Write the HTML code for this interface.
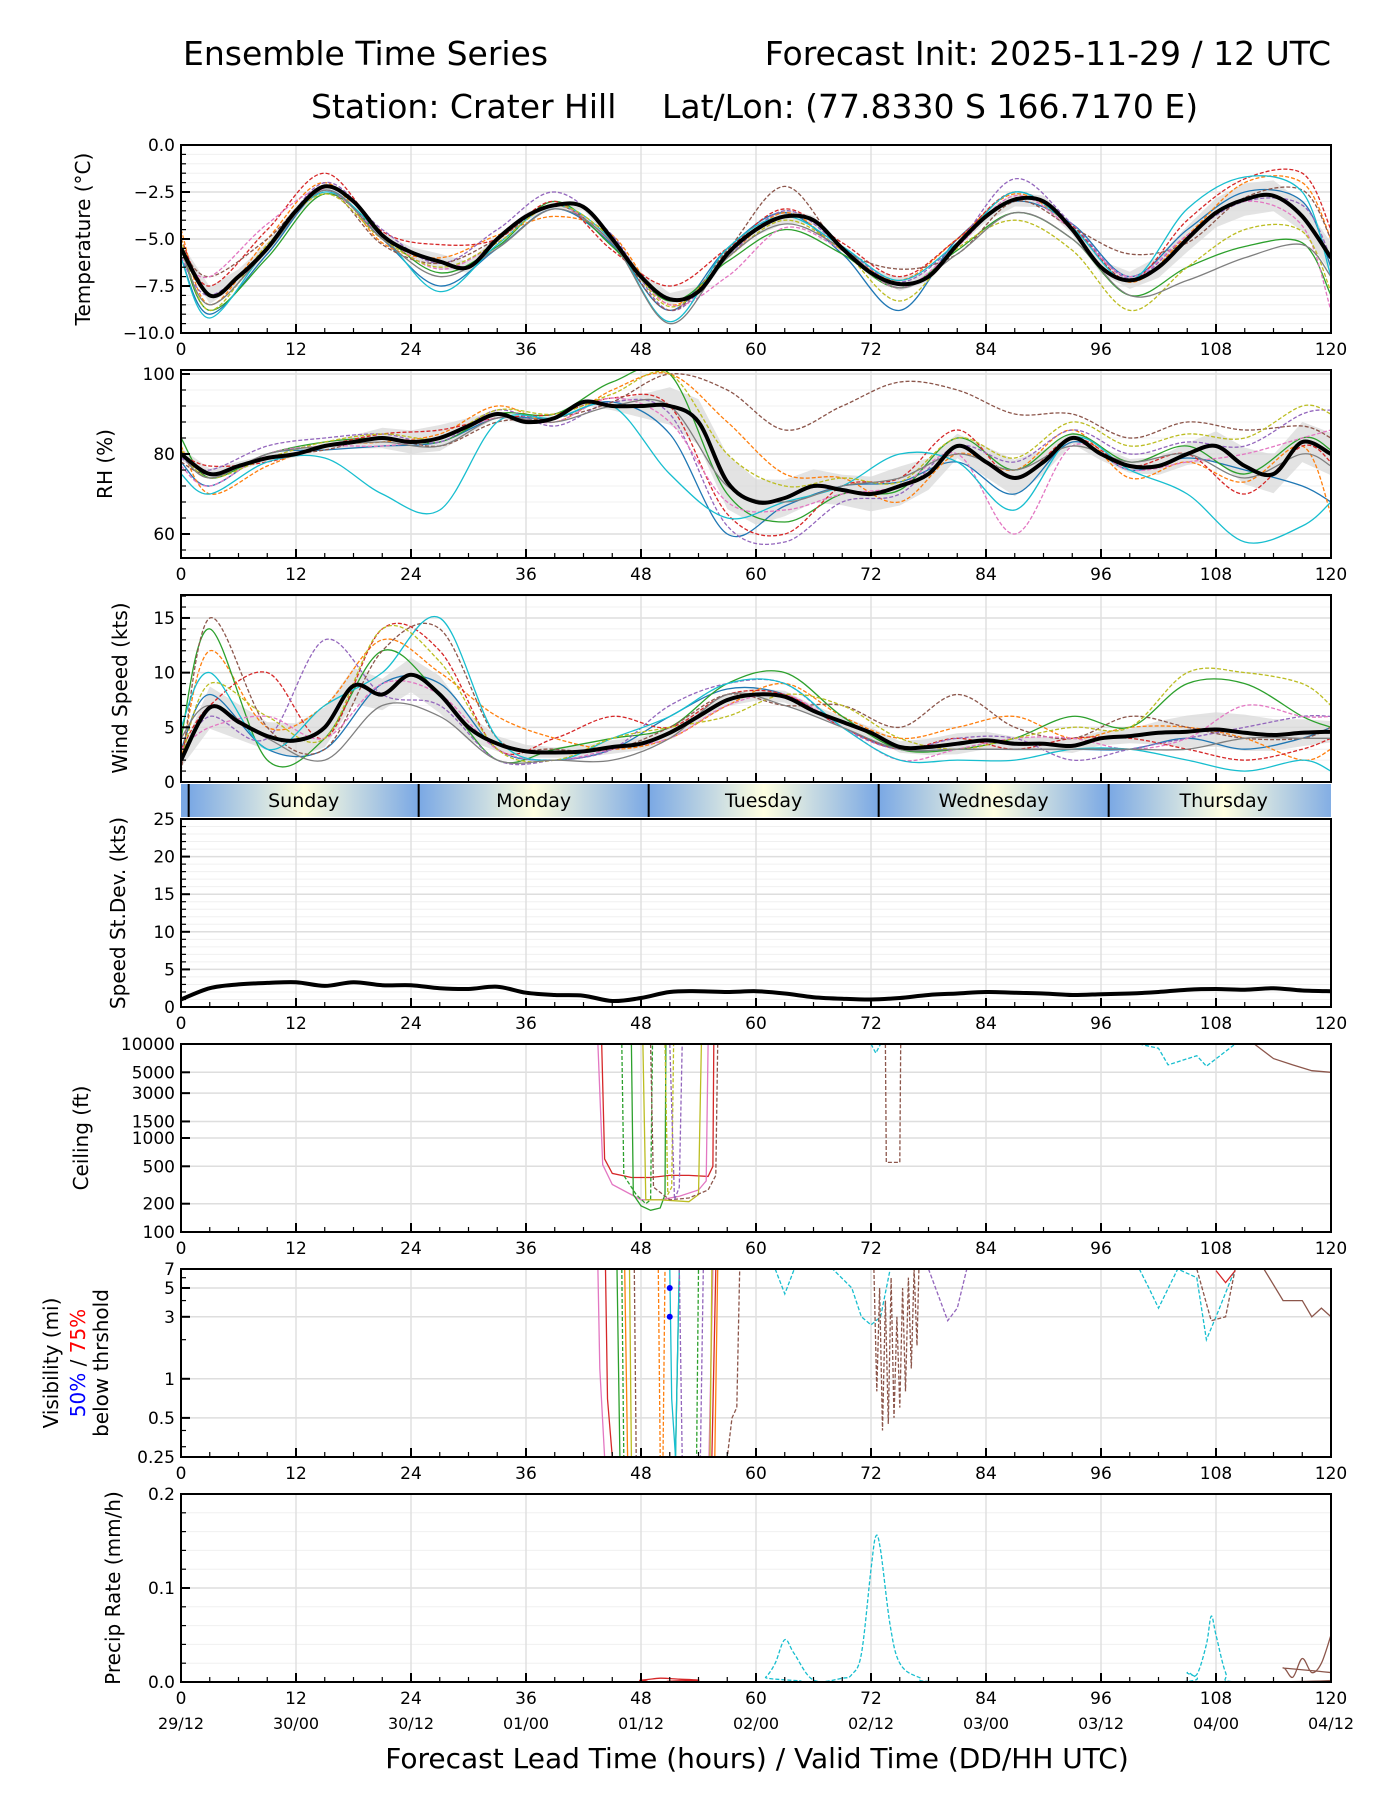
<!DOCTYPE html>
<html><head><meta charset="utf-8"><style>
body{margin:0;background:#fff;}
svg{display:block;font-family:"DejaVu Sans","Liberation Sans",sans-serif;}
</style></head><body>
<svg id="chart" width="1400" height="1800" viewBox="0 0 1400 1800">
<defs>
<linearGradient id="dayg" x1="0" x2="1" y1="0" y2="0">
<stop offset="0" stop-color="#7aa8e4"/><stop offset="0.5" stop-color="#ffffe0"/><stop offset="1" stop-color="#7aa8e4"/>
</linearGradient>
</defs>
<text x="183" y="65" font-size="33">Ensemble Time Series</text>
<text x="1331" y="65" font-size="33" text-anchor="end">Forecast Init: 2025-11-29 / 12 UTC</text>
<text x="311" y="118" font-size="33">Station: Crater Hill</text>
<text x="662" y="118" font-size="33">Lat/Lon: (77.8330 S 166.7170 E)</text>
<text x="757" y="1768" font-size="28" text-anchor="middle">Forecast Lead Time (hours) / Valid Time (DD/HH UTC)</text>
</svg>
<script>
const COLORS=['#1f77b4','#ff7f0e','#2ca02c','#d62728','#9467bd','#8c564b','#e377c2','#17becf','#bcbd22','#7f7f7f'];
const DASH=[false,true,false,true,true,true,true,false,true,false];
const memberHours=[0,3,9,15,21,27,33,39,45,51,57,63,69,75,81,87,93,99,105,111,117,120];
const meanHours=[0,3,6,9,12,15,18,21,24,27,30,33,36,39,42,45,48,51,54,57,60,63,66,69,72,75,78,81,84,87,90,93,96,99,102,105,108,111,114,117,120];
const tempMean=[-5.5,-8.0,-7.0,-5.5,-3.5,-2.2,-3.0,-4.8,-5.7,-6.2,-6.5,-5.0,-3.8,-3.2,-3.3,-5.0,-7.0,-8.2,-7.8,-5.8,-4.5,-3.8,-4.0,-5.5,-6.8,-7.4,-7.0,-5.3,-3.8,-2.9,-3.0,-4.5,-6.5,-7.2,-6.5,-5.0,-3.6,-2.9,-2.7,-3.8,-6.0];
const tempMembers=[
[-6,-9,-5.8,-2.4,-5,-7.5,-5.5,-3.4,-5.3,-8.8,-5.5,-3.6,-5.8,-8.8,-5,-3,-4.2,-7,-4.5,-2.5,-3,-6.5],
[-4.5,-8.5,-5,-2,-5.2,-6,-4.8,-3.8,-4.8,-8.5,-6,-3.6,-5.6,-7.2,-5,-2.6,-4.4,-7.3,-4.8,-2,-2,-5],
[-5.5,-8.8,-6,-2.6,-4.8,-6.8,-5.4,-3,-5.4,-8.3,-6.2,-4.5,-5.8,-7.6,-5.6,-3.6,-5,-8,-6.5,-5.4,-5.2,-8],
[-5,-7.5,-4.5,-1.5,-4.6,-5.3,-5,-3,-5.6,-7.5,-5.5,-3.4,-5.2,-7,-5,-2.5,-4.3,-7.2,-4,-1.8,-1.5,-4.5],
[-6,-8,-5.5,-2,-4.5,-6.3,-4.5,-2.5,-4.8,-8.8,-6,-3.5,-5.4,-7.3,-5.2,-1.8,-4.2,-7.1,-4.8,-3,-3.2,-6],
[-5.5,-7,-5,-2.4,-5.3,-6.3,-5,-3.2,-5.2,-8.8,-5.6,-2.2,-5.5,-6.6,-5.8,-3,-4.4,-5.8,-5.2,-2.8,-2.4,-5],
[-6,-7,-4.2,-2.4,-4.8,-6.6,-5.2,-3.2,-5.2,-8.5,-7,-4.4,-5.6,-7.6,-5.4,-2.7,-4.5,-7,-4.8,-3,-4.3,-8.8],
[-6,-9.2,-5.5,-2.5,-4.8,-7.8,-5.3,-3.2,-5.1,-9.4,-5.5,-3.8,-5.4,-7.2,-5.2,-2.5,-4.4,-7.2,-3.4,-1.7,-2.5,-7],
[-5,-8.8,-5.3,-2.6,-5,-6.5,-5.2,-3.2,-5,-8.6,-6,-4,-5.6,-8.3,-5.5,-4,-5.6,-8.8,-6.5,-4.5,-4.6,-7.8],
[-5.5,-8.5,-5.6,-2.4,-5,-7,-5.5,-3.4,-5.2,-9.5,-6,-4.2,-5.5,-7.6,-5.8,-3.6,-5,-8,-7.2,-6,-5.3,-7]];
const rhMean=[80,75,77,79,80,82,83,84,83,84,87,90,88,89,93,92,92,92,88,73,68,69,72,71,70,72,75,82,78,74,78,84,80,77,77,80,82,77,75,83,80];
const rhMembers=[
[78,72,80,81,82,83,89,89,93,85,60,67,72,73,78,70,83,76,79,76,72,68],
[82,70,77,82,83,85,92,88,96,100,88,75,74,68,80,76,86,74,78,73,82,65],
[84,74,80,83,84,83,90,90,98,100,70,63,70,71,84,76,85,78,82,75,84,81],
[80,77,78,82,85,86,89,90,94,92,65,60,72,74,86,74,84,77,80,70,82,78],
[79,76,82,84,85,83,91,87,93,90,62,58,68,70,82,78,86,80,83,82,90,91],
[78,75,79,81,84,82,88,89,93,100,96,86,92,98,96,90,90,84,88,86,87,84],
[77,72,80,82,82,84,89,88,94,88,68,66,70,72,80,60,82,76,78,80,84,86],
[75,70,78,79,70,66,88,89,92,75,64,68,72,80,78,66,84,76,70,58,62,68],
[81,74,79,83,85,84,91,90,95,100,80,72,74,73,84,79,88,82,85,84,92,90],
[80,74,80,82,83,82,89,88,92,92,72,68,72,74,80,76,82,78,80,74,80,77]];
const windMean=[2,6.8,5.5,4.2,3.8,5,8.8,8,9.8,8,5,3.5,2.8,2.7,2.8,3.2,3.5,4.5,6,7.5,8,7.8,6.5,5.5,4.5,3.2,3.2,3.5,3.8,3.5,3.5,3.3,4,4.2,4.5,4.6,4.8,4.5,4.3,4.5,4.6];
const windMembers=[
[3,8,3,3,9,9,3,2,3,6,8.5,8,5,3,3,3,3,3,4,3,4,5],
[2,12,5,7,13,10,6,4,3,4,7,9,6,4,5,6,4,5,5,4,2,3],
[4,14,2,4,12,8,2,3,4,5,9,10,6,3,3,4,6,5,9,9,6,5],
[3,7,10,4,14,12,3,4,6,5,8,8,5,3,4,3,4,4,3,2,3,4],
[2,6,4,13,8,7,2,2,3,7,9,9,5,3,4,4,2,3,4,5,6,6],
[1,15,5,3,12,14,4,3,3,5,8,7,7,5,8,5,4,6,5,4,4,5],
[3,5,6,4,9,8,3,2,3,4,7,8,5,2,3,4,4,3,4,7,6,6],
[5,10,3,7,10,15,4,2,4,6,9,9,5,2,2,2,3,3,2,1,2,1],
[2,9,6,4,14,11,3,2,4,5,6,8,7,4,3,4,5,5,10,10,9,7],
[4,7,4,2,7,6,2,2,2,4,8,7,5,3,3,3,3,3,3,4,4,4]];
const sdMean=[1,2.5,3,3.2,3.3,2.8,3.3,2.9,2.9,2.5,2.4,2.7,1.9,1.6,1.5,0.8,1.2,2,2.1,2,2.1,1.8,1.3,1.1,1,1.2,1.6,1.8,2,1.9,1.8,1.6,1.7,1.8,2,2.3,2.4,2.3,2.5,2.2,2.1];
const ceilMembers=[
{c:3,d:false,h:[43.9,44.2,45,47,49,51,53,55,55.5,55.6],v:[10000,600,420,380,380,400,400,390,500,10000]},
{c:6,d:false,h:[43.5,44,45,48,50,52,54,54.8,55],v:[10000,520,320,220,220,240,280,350,10000]},
{c:2,d:false,h:[47,47.2,48,49,50,50.5,50.6],v:[10000,250,190,170,180,250,10000]},
{c:2,d:true,h:[46,46.2,47.5,48.5,49,49.2],v:[10000,400,250,200,220,10000]},
{c:8,d:false,h:[48.2,48.5,50,53,54,54.3],v:[10000,220,220,210,250,10000]},
{c:8,d:true,h:[50.5,50.8,51.2,51.4],v:[10000,250,300,10000]},
{c:5,d:true,h:[49,49.3,51,53,55,55.8,56],v:[10000,300,220,230,280,400,10000]},
{c:4,d:true,h:[51,51.5,52,52.3],v:[10000,220,300,10000]},
{c:5,d:true,h:[73.5,73.6,75,75.1],v:[10000,550,550,10000]},
{c:7,d:true,h:[72,72.5,73],v:[10000,8000,10000]},
{c:7,d:true,h:[100,102,103,106,107,110],v:[10000,9000,6000,7500,5800,10000]},
{c:5,d:false,h:[112,114,116,118,120],v:[10000,7000,6000,5200,5000]}];
const visMembers=[
{c:6,d:false,h:[43.5,43.7,44.2,55.1,55.5],v:[7,1.2,0.25,0.25,7]},
{c:3,d:false,h:[44.3,44.5,45,55.4,55.8],v:[7,0.7,0.25,0.25,7]},
{c:2,d:false,h:[45.5,45.8,51.6,52],v:[7,0.25,0.25,7]},
{c:2,d:true,h:[46,46.2,53.8,54],v:[7,0.25,0.25,7]},
{c:8,d:false,h:[46.8,47,55.2,55.4],v:[7,0.25,0.25,7]},
{c:1,d:false,h:[46.3,46.6,55.7,56],v:[7,0.25,0.25,7]},
{c:1,d:true,h:[49.8,50,50.3,50.5],v:[7,0.25,0.25,7]},
{c:7,d:false,h:[51,51.2,51.6,52],v:[7,0.7,0.25,7]},
{c:4,d:true,h:[52,52.3,54.2,54.5],v:[7,0.25,0.25,7]},
{c:5,d:true,h:[47.3,47.5,57,57.5,58,58.3],v:[7,0.25,0.25,0.5,0.6,7]},
{c:7,d:true,h:[62,63,64,68,70,71,72,73,74],v:[7,4.5,7,7,5,3,2.6,3,7]},
{c:5,d:true,h:[72.3,72.6,72.9,73.2,73.5,73.8,74.1,74.4,74.7,75,75.3,75.6,75.9,76.2,76.5,76.8,77],v:[7,0.8,5,0.4,4,0.45,6,0.5,3,0.6,5,0.8,6,1.2,7,1.8,7]},
{c:4,d:true,h:[78,80,81,82],v:[7,2.8,3.5,7]},
{c:7,d:true,h:[100,101,102,104,106,107,108,110],v:[7,5,3.5,7,6,2,3,7]},
{c:5,d:true,h:[106,107.5,109,110],v:[7,2.8,3,7]},
{c:5,d:false,h:[113,115,117,118,119,120],v:[7,4,4,3,3.5,3]},
{c:3,d:false,h:[108,109,110],v:[6.8,5.5,6.8]}];
const visDotsHour=[51,51];
const visDotsValue=[5,3];
const precipMembers=[
{c:7,d:true,h:[0,60,61,62,63,64,66,69,70,71,72,72.5,73,74,75,77,80,104,105,106,107,107.5,108,109,110,120],v:[0,0,0.005,0.02,0.045,0.03,0.002,0.004,0.008,0.03,0.12,0.155,0.14,0.06,0.02,0.005,0,0,0.01,0.008,0.04,0.07,0.05,0.01,0,0]},
{c:5,d:false,h:[0,114,115,116,117,118,119,120],v:[0,0,0.015,0.005,0.025,0.01,0.02,0.05]},
{c:3,d:false,h:[0,44,48,50,52,54,56,120],v:[0,0,0.002,0.004,0.003,0.002,0,0]}];
const dayNames=['Sunday','Monday','Tuesday','Wednesday','Thursday'];
const dayStarts=[0.8,24.8,48.8,72.8,96.8];
const xTicks=[0,12,24,36,48,60,72,84,96,108,120];
const validLabels=['29/12','30/00','30/12','01/00','01/12','02/00','02/12','03/00','03/12','04/00','04/12'];

const NS='http://www.w3.org/2000/svg';
const svg=document.getElementById('chart');
const X0=181,X1=1331;
function xs(h){return X0+h/120*(X1-X0);}
function el(tag,attrs,parent){const e=document.createElementNS(NS,tag);for(const k in attrs)e.setAttribute(k,attrs[k]);(parent||svg).appendChild(e);return e;}
function smooth(pts){if(pts.length<2)return'';let d='M'+pts[0][0].toFixed(1)+','+pts[0][1].toFixed(1);for(let i=0;i<pts.length-1;i++){const p0=pts[i-1]||pts[i],p1=pts[i],p2=pts[i+1],p3=pts[i+2]||p2;const c1=[p1[0]+(p2[0]-p0[0])/6,p1[1]+(p2[1]-p0[1])/6],c2=[p2[0]-(p3[0]-p1[0])/6,p2[1]-(p3[1]-p1[1])/6];d+='C'+c1[0].toFixed(1)+','+c1[1].toFixed(1)+' '+c2[0].toFixed(1)+','+c2[1].toFixed(1)+' '+p2[0].toFixed(1)+','+p2[1].toFixed(1);}return d;}
function lin(pts){return pts.map((p,i)=>(i?'L':'M')+p[0].toFixed(1)+','+p[1].toFixed(1)).join('');}

function makePanel(p){
  const g=el('g',{});
  
  
  const ys=p.log?(v=>p.bot-(Math.log10(v)-Math.log10(p.ymin))/(Math.log10(p.ymax)-Math.log10(p.ymin))*(p.bot-p.top)):(v=>p.bot-(v-p.ymin)/(p.ymax-p.ymin)*(p.bot-p.top));
  const clipId='clip-'+p.name;
  const cp=el('clipPath',{id:clipId},g);el('rect',{x:X0,y:p.top,width:X1-X0,height:p.bot-p.top},cp);
  (p.minor||[]).forEach(v=>{const y=ys(v);el('line',{x1:X0,x2:X1,y1:y,y2:y,stroke:'#f0f0f0','stroke-width':1},g);});
  p.ticks.forEach(v=>{const y=ys(v);el('line',{x1:X0,x2:X1,y1:y,y2:y,stroke:'#dedede','stroke-width':1.5},g);});
  xTicks.forEach(h=>{el('line',{x1:xs(h),x2:xs(h),y1:p.top,y2:p.bot,stroke:'#e0e0e0','stroke-width':1.5},g);});
  const inner=el('g',{'clip-path':'url(#'+clipId+')'},g);
  p.draw(inner,ys);
  el('rect',{x:X0,y:p.top,width:X1-X0,height:p.bot-p.top,fill:'none',stroke:'#000','stroke-width':2},g);
  for(let h=0;h<=120;h+=3){const major=h%12===0;el('line',{x1:xs(h),x2:xs(h),y1:p.bot,y2:p.bot-(major?9:5),stroke:'#000','stroke-width':major?2:1.2},g);}
  if(!p.noXLabels) xTicks.forEach((h,i)=>{const t=el('text',{x:xs(h),y:p.bot+22,'font-size':17,'text-anchor':'middle'},g);t.textContent=h;
    
    });
  (p.minorTicks||[]).forEach(v=>{const y=ys(v);el('line',{x1:X0,x2:X0+5,y1:y,y2:y,stroke:'#000','stroke-width':1.2},g);});
  p.ticks.forEach((v,i)=>{const y=ys(v);el('line',{x1:X0,x2:X0+9,y1:y,y2:y,stroke:'#000','stroke-width':2},g);
    const t=el('text',{x:X0-6,y:y+6,'font-size':17,'text-anchor':'end'},g);t.textContent=p.labels[i];
    
    });
  return {g,ys,inner};
}
function drawMembers(g,ys,members,hours){
  members.forEach((m,i)=>{const pts=hours.map((h,j)=>[xs(h),ys(m[j])]);
    const pa=el('path',{d:smooth(pts),fill:'none',stroke:COLORS[i],'stroke-width':1.3,'stroke-dasharray':DASH[i]?'4,2':'none'},g);
    
    });
}
function drawBand(g,ys,members,hours,mean,mh){
  const sd=hours.map((h,j)=>{const vals=members.map(m=>m[j]);const mu=vals.reduce((a,b)=>a+b,0)/vals.length;return Math.sqrt(vals.reduce((a,b)=>a+(b-mu)*(b-mu),0)/vals.length);});
  const sdAt=h=>{for(let j=0;j<hours.length-1;j++){if(h<=hours[j+1]){const f=(h-hours[j])/(hours[j+1]-hours[j]);return sd[j]*(1-f)+sd[j+1]*f;}}return sd[sd.length-1];};
  const up=mh.map((h,i)=>[xs(h),ys(mean[i]+sdAt(h)*0.6)]);
  const lo=mh.map((h,i)=>[xs(h),ys(mean[i]-sdAt(h)*0.6)]).reverse();
  const b=el('path',{d:lin(up)+lin(lo).replace('M','L')+'Z',fill:'#d9d9d9',opacity:0.75},g);
  
  
}
function drawMean(g,ys,mean){
  const pa=el('path',{d:smooth(meanHours.map((h,i)=>[xs(h),ys(mean[i])])),fill:'none',stroke:'#000','stroke-width':4},g);
  
  
}
function ylabel(x,yc,text,name,color){
  const t=el('text',{x:x,y:yc,'font-size':20,'text-anchor':'middle',transform:'rotate(-90 '+x+' '+yc+')',fill:color||'#000'});
  t.textContent=text;
  
  
  return t;
}
function minorRange(a,b,s){const r=[];for(let v=a;v<=b+1e-9;v+=s)r.push(+v.toFixed(3));return r;}

makePanel({name:'temperature',top:145,bot:333,ymin:-10,ymax:0,ticks:[0,-2.5,-5,-7.5,-10],labels:['0.0','−2.5','−5.0','−7.5','−10.0'],minor:minorRange(-10,0,0.5),minorTicks:minorRange(-10,0,0.5),
 draw:(g,ys)=>{drawBand(g,ys,tempMembers,memberHours,tempMean,meanHours);drawMembers(g,ys,tempMembers,memberHours);drawMean(g,ys,tempMean);}});
ylabel(90,239,'Temperature (°C)','temperature-axis-title');
makePanel({name:'rh',top:370,bot:558,ymin:54,ymax:101,ticks:[60,80,100],labels:['60','80','100'],minor:minorRange(56,100,4),minorTicks:minorRange(56,100,4),
 draw:(g,ys)=>{drawBand(g,ys,rhMembers,memberHours,rhMean,meanHours);drawMembers(g,ys,rhMembers,memberHours);drawMean(g,ys,rhMean);}});
ylabel(112,464,'RH (%)','rh-axis-title');
makePanel({name:'wind',top:595,bot:782,ymin:0,ymax:17.1,ticks:[0,5,10,15],labels:['0','5','10','15'],minor:minorRange(1,17,1),minorTicks:minorRange(1,17,1),noXLabels:true,
 draw:(g,ys)=>{drawBand(g,ys,windMembers,memberHours,windMean,meanHours);drawMembers(g,ys,windMembers,memberHours);drawMean(g,ys,windMean);}});
ylabel(127,688,'Wind Speed (kts)','wind-axis-title');
(function(){const g=el('g',{});
 el('rect',{x:X0,y:784,width:X1-X0,height:33,fill:'#7aa8e4'},g);
 dayStarts.forEach((s,i)=>{const r=el('rect',{x:xs(s),y:784,width:xs(s+24)-xs(s),height:33,fill:'url(#dayg)'},g);
   
   el('line',{x1:xs(s),x2:xs(s),y1:784,y2:817,stroke:'#000','stroke-width':2},g);
   const t=el('text',{x:xs(s+12),y:807,'font-size':19,'text-anchor':'middle'},g);t.textContent=dayNames[i];
   });
 el('rect',{x:X1,y:784,width:69,height:33,fill:'#fff'},g);
})();
makePanel({name:'speed-stdev',top:819,bot:1007,ymin:0,ymax:25,ticks:[0,5,10,15,20,25],labels:['0','5','10','15','20','25'],minor:minorRange(1,25,1),minorTicks:minorRange(1,25,1),
 draw:(g,ys)=>{drawMean(g,ys,sdMean);}});
ylabel(125,913,'Speed St.Dev. (kts)','stdev-axis-title');
function drawHV(g,ys,list){list.forEach(m=>{const pa=el('path',{d:lin(m.h.map((h,j)=>[xs(h),ys(m.v[j])])),fill:'none',stroke:COLORS[m.c],'stroke-width':1.3,'stroke-dasharray':m.d?'4,2':'none'},g);
  });}
makePanel({name:'ceiling',top:1044,bot:1232,ymin:100,ymax:10000,log:true,ticks:[100,200,500,1000,1500,3000,5000,10000],labels:['100','200','500','1000','1500','3000','5000','10000'],
 draw:(g,ys)=>{drawHV(g,ys,ceilMembers);}});
ylabel(88,1138,'Ceiling (ft)','ceiling-axis-title');
makePanel({name:'visibility',top:1269,bot:1457,ymin:0.25,ymax:7,log:true,ticks:[0.25,0.5,1,3,5,7],labels:['0.25','0.5','1','3','5','7'],minorTicks:[0.3,0.4,2,4,6],
 draw:(g,ys)=>{drawHV(g,ys,visMembers);visDotsHour.forEach((h,i)=>{const c=el('circle',{cx:xs(h),cy:ys(visDotsValue[i]),r:3,fill:'#0000ff'},g);});}});
ylabel(58,1363,'Visibility (mi)','visibility-axis-title');
(function(){const x=85,yc=1363;const t=el('text',{x:x,y:yc,'font-size':20,'text-anchor':'middle',transform:'rotate(-90 '+x+' '+yc+')'});
 
 const a=el('tspan',{fill:'#0000ff'},t);a.textContent='50%';const b=el('tspan',{fill:'#000'},t);b.textContent=' / ';const c=el('tspan',{fill:'#ff0000'},t);c.textContent='75%';})();
ylabel(108,1363,'below thrshold','visibility-axis-subtitle');
makePanel({name:'precip',top:1494,bot:1682,ymin:0,ymax:0.2,ticks:[0,0.1,0.2],labels:['0.0','0.1','0.2'],minor:minorRange(0.02,0.2,0.02),minorTicks:minorRange(0.02,0.2,0.02),
 draw:(g,ys)=>{precipMembers.forEach(m=>{const pa=el('path',{d:smooth(m.h.map((h,j)=>[xs(h),ys(m.v[j])])),fill:'none',stroke:COLORS[m.c],'stroke-width':1.3,'stroke-dasharray':m.d?'4,2':'none'},g);
   });}});
ylabel(120,1588,'Precip Rate (mm/h)','precip-axis-title');
xTicks.forEach((h,i)=>{const t=el('text',{x:xs(h),y:1729,'font-size':16,'text-anchor':'middle'});t.textContent=validLabels[i];
  
  });
</script>
</body></html>
